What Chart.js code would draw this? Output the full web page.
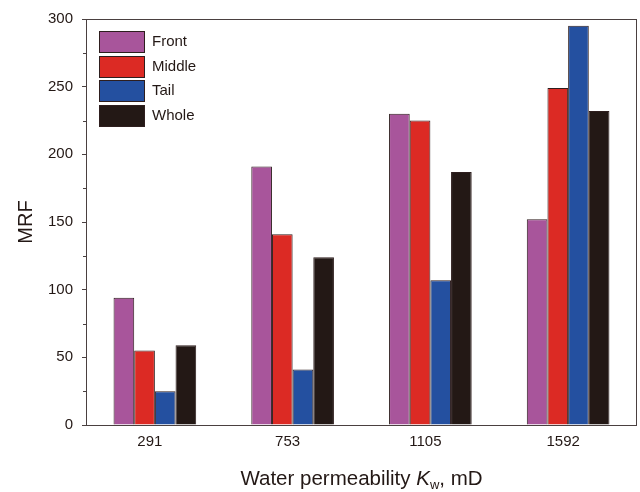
<!DOCTYPE html>
<html>
<head>
<meta charset="utf-8">
<script src="https://cdn.jsdelivr.net/npm/chart.js@4"></script>
<style>
  html, body { margin: 0; padding: 0; background: #fff; }
  #box { width: 640px; height: 492px; }
</style>
</head>
<body>
<div id="box"><canvas id="myChart"></canvas></div>
<script>
// data
let permeabilidad = ['291', '753', '1105', '1592'];
let frontal = [94, 191, 230, 152];
let medio = [55, 141, 225, 249];
let cola = [25, 41, 107, 295];
let total = [59, 124, 187, 232];
let ticksY = [0, 50, 100, 150, 200, 250, 300];
let ticksMenores = [25, 75, 125, 175, 225, 275];

let colorBorde = '#2e1e1e';
let colorTexto = '#231815';
let fuente = '"Liberation Sans", Arial, sans-serif';

// frame, minor ticks, legend inside the plot, axis titles
let extras = {
    id: 'extras',
    afterDraw(chart) {
        let ctx = chart.ctx;
        let area = chart.chartArea;
        let y = chart.scales.y;
        ctx.save();
        ctx.strokeStyle = '#4a4040';
        ctx.lineWidth = 1;
        ctx.strokeRect(area.left + 0.5, area.top + 0.5, area.right - area.left - 1, area.bottom - area.top);

        // minor ticks
        ticksMenores.forEach(v => {
            let py = Math.round(y.getPixelForValue(v)) + 0.5;
            ctx.beginPath();
            ctx.moveTo(area.left - 3, py);
            ctx.lineTo(area.left, py);
            ctx.stroke();
        });

        // legend
        let lx = area.left + 13;
        let ly = area.top + 12;
        chart.data.datasets.forEach((ds, i) => {
            let top = Math.round(ly + i * 24.6);
            ctx.fillStyle = ds.backgroundColor;
            ctx.fillRect(lx, top, 45, 21);
            ctx.strokeStyle = colorBorde;
            ctx.strokeRect(lx + 0.5, top + 0.5, 45, 21);
            ctx.fillStyle = colorTexto;
            ctx.font = '15px ' + fuente;
            ctx.textBaseline = 'middle';
            ctx.textAlign = 'left';
            ctx.fillText(ds.label, lx + 53, top + 11);
        });

        // y title
        ctx.save();
        ctx.translate(26, (area.top + area.bottom) / 2);
        ctx.rotate(-Math.PI / 2);
        ctx.font = '20px ' + fuente;
        ctx.textAlign = 'center';
        ctx.textBaseline = 'middle';
        ctx.fillText('MRF', 0, 0);
        ctx.restore();

        // x title with italic K and subscript w
        let partes = [
            { t: 'Water permeability ', f: '20.5px ' + fuente, dy: 0 },
            { t: 'K', f: 'italic 20.5px ' + fuente, dy: 0 },
            { t: 'w', f: '13px ' + fuente, dy: 4 },
            { t: ', mD', f: '20.5px ' + fuente, dy: 0 }
        ];
        let ancho = 0;
        partes.forEach(p => { ctx.font = p.f; ancho += ctx.measureText(p.t).width; });
        let x = (area.left + area.right) / 2 - ancho / 2;
        ctx.textAlign = 'left';
        ctx.textBaseline = 'alphabetic';
        partes.forEach(p => {
            ctx.font = p.f;
            ctx.fillText(p.t, x, 485 + p.dy);
            x += ctx.measureText(p.t).width;
        });
        ctx.restore();
    }
};

function serie(label, data, color) {
    return {
        label: label,
        data: data,
        backgroundColor: color,
        borderColor: colorBorde,
        borderWidth: 1,
        borderSkipped: 'bottom',
        categoryPercentage: 0.6,
        barPercentage: 1.0
    };
}

let config = {
    type: 'bar',
    data: {
        labels: permeabilidad,
        datasets: [
            serie('Front', frontal, '#a8559b'),
            serie('Middle', medio, '#dc2a24'),
            serie('Tail', cola, '#2450a0'),
            serie('Whole', total, '#231815')
        ]
    },
    options: {
        responsive: true,
        maintainAspectRatio: false,
        animation: false,
        layout: { padding: { left: 0, right: 3, top: 19, bottom: 0 } },
        plugins: {
            legend: { display: false },
            tooltip: { enabled: false }
        },
        scales: {
            x: {
                grid: { display: false, drawTicks: false },
                border: { display: false },
                ticks: {
                    color: colorTexto,
                    padding: 8,
                    labelOffset: -5,
                    font: { family: fuente, size: 15 }
                },
                afterFit(scale) { scale.height = 67; }
            },
            y: {
                min: 0,
                max: 300,
                afterBuildTicks(scale) { scale.ticks = ticksY.map(v => ({ value: v })); },
                grid: { drawOnChartArea: false, tickLength: 4, color: '#4a4040' },
                border: { display: false },
                ticks: {
                    color: colorTexto,
                    padding: 9,
                    font: { family: fuente, size: 15 }
                },
                afterFit(scale) { scale.width = 86; }
            }
        }
    },
    plugins: [extras]
};

let myChart = new Chart(document.getElementById('myChart'), config);
</script>
</body>
</html>
